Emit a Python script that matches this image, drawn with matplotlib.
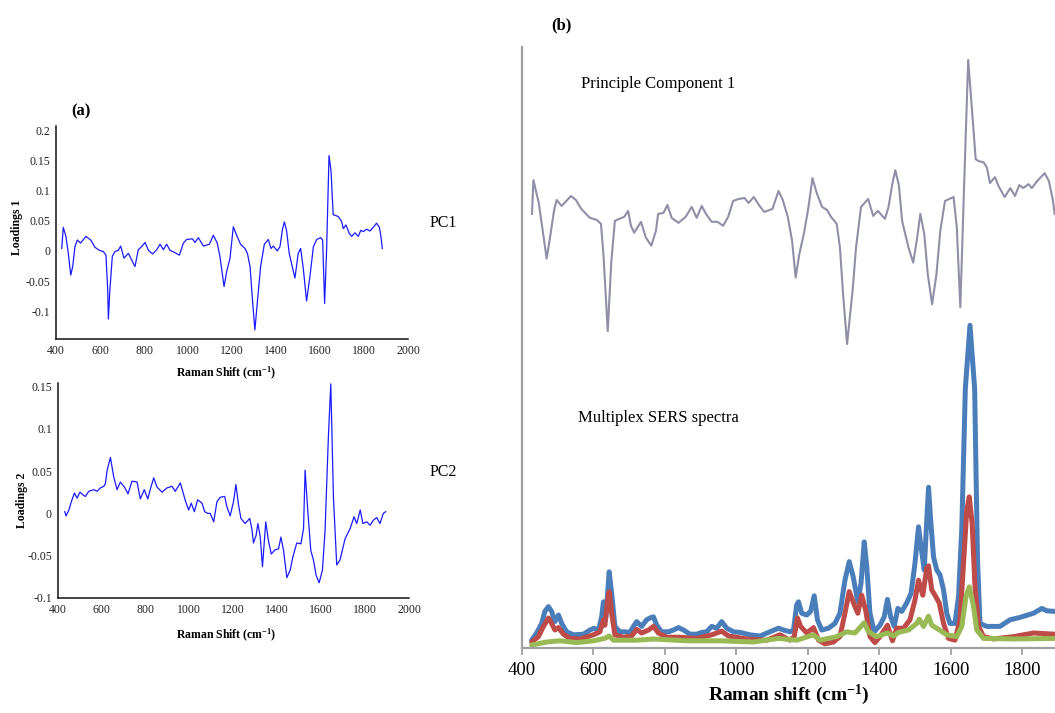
import matplotlib
matplotlib.use("Agg")
import matplotlib.pyplot as plt
from matplotlib.ticker import FixedLocator

plt.rcParams['font.family'] = ['Liberation Serif', 'DejaVu Serif']
plt.rcParams['mathtext.fontset'] = 'custom'
plt.rcParams['mathtext.rm'] = 'Liberation Serif'
plt.rcParams['mathtext.bf'] = 'Liberation Serif:bold'
plt.rcParams['mathtext.it'] = 'Liberation Serif:italic'

# ---------------- (a) PCA loadings ----------------
pc1_a_wn = [426, 433, 445, 456, 467, 476, 486, 497, 512, 536, 558, 577, 597, 615, 627, 635, 638, 645,
            656, 668, 683, 694, 709, 729, 744, 759, 774, 789, 805, 820, 839, 858, 873, 888, 903, 918,
            941, 961, 979, 994, 1020, 1032, 1047, 1070, 1097, 1115, 1133, 1145, 1164, 1176, 1191,
            1206, 1221, 1239, 1259, 1270, 1282, 1294, 1304, 1315, 1330, 1347, 1365, 1377, 1388, 1406,
            1418, 1430, 1438, 1448, 1460, 1486, 1501, 1512, 1524, 1539, 1554, 1570, 1585, 1603, 1612,
            1621, 1630, 1641, 1650, 1660, 1683, 1698, 1706, 1718, 1733, 1744, 1759, 1774, 1785, 1797,
            1812, 1827, 1842, 1857, 1870, 1877, 1883]
pc1_a_val = [0.004, 0.039, 0.024, -0.004, -0.040, -0.026, 0.007, 0.018, 0.013, 0.024, 0.018, 0.006,
             0.001, -0.001, -0.007, -0.064, -0.113, -0.064, -0.009, -0.001, 0.001, 0.008, -0.012,
             -0.004, -0.015, -0.026, 0.002, 0.007, 0.014, 0.001, -0.005, 0.002, 0.011, 0.002, 0.011,
             0.001, -0.003, -0.007, 0.013, 0.019, 0.020, 0.014, 0.022, 0.008, 0.011, 0.026, 0.013,
             -0.009, -0.059, -0.034, -0.012, 0.040, 0.026, 0.011, 0.004, -0.004, -0.026, -0.086,
             -0.131, -0.086, -0.026, 0.011, 0.019, 0.004, 0.008, 0.000, 0.007, 0.037, 0.048, 0.034,
             -0.004, -0.045, -0.004, 0.004, -0.029, -0.083, -0.043, 0.007, 0.019, 0.022, 0.018,
             -0.087, 0.002, 0.158, 0.133, 0.060, 0.057, 0.049, 0.037, 0.043, 0.029, 0.024, 0.030,
             0.024, 0.034, 0.032, 0.036, 0.033, 0.039, 0.046, 0.039, 0.024, 0.004]

pc2_a_wn = [433, 439, 452, 462, 477, 489, 502, 520, 527, 542, 565, 580, 595, 611, 618, 626, 641, 656,
            671, 686, 705, 721, 739, 762, 777, 795, 811, 823, 838, 853, 876, 898, 921, 936, 959, 982,
            997, 1009, 1023, 1038, 1058, 1070, 1083, 1095, 1111, 1126, 1141, 1161, 1171, 1186, 1202,
            1212, 1224, 1235, 1254, 1275, 1285, 1292, 1304, 1312, 1323, 1333, 1348, 1360, 1373, 1391,
            1406, 1417, 1429, 1444, 1459, 1471, 1489, 1508, 1520, 1527, 1539, 1553, 1565, 1577, 1591,
            1606, 1618, 1633, 1644, 1656, 1671, 1686, 1709, 1732, 1750, 1762, 1778, 1790, 1808, 1823,
            1838, 1853, 1868, 1883, 1894]
pc2_a_val = [0.002, -0.003, 0.004, 0.013, 0.024, 0.018, 0.025, 0.021, 0.020, 0.026, 0.028, 0.026,
             0.030, 0.032, 0.035, 0.051, 0.066, 0.043, 0.028, 0.037, 0.031, 0.023, 0.038, 0.037,
             0.017, 0.028, 0.017, 0.029, 0.042, 0.031, 0.025, 0.030, 0.032, 0.026, 0.036, 0.015,
             0.004, 0.012, 0.002, 0.016, 0.012, 0.002, 0.000, 0.000, -0.010, 0.014, 0.019, 0.020,
             0.008, -0.003, 0.015, 0.034, 0.010, -0.006, -0.012, -0.006, -0.019, -0.035, -0.026,
             -0.012, -0.028, -0.063, -0.010, -0.032, -0.048, -0.043, -0.042, -0.028, -0.044, -0.076,
             -0.067, -0.052, -0.035, -0.036, -0.018, 0.051, 0.004, -0.044, -0.055, -0.073, -0.082,
             -0.067, -0.020, 0.090, 0.153, 0.019, -0.061, -0.055, -0.030, -0.018, -0.004, -0.012,
             0.004, -0.012, -0.010, -0.014, -0.008, -0.005, -0.012, 0.000, 0.002]

a_xticks = [400, 600, 800, 1000, 1200, 1400, 1600, 1800, 2000]
pc1_yticks = [0.2, 0.15, 0.1, 0.05, 0, -0.05, -0.1]
pc1_ylabels = ['0.2', '0.15', '0.1', '0.05', '0', '-0.05', '-0.1']
pc2_yticks = [0.15, 0.1, 0.05, 0, -0.05, -0.1]
pc2_ylabels = ['0.15', '0.1', '0.05', '0', '-0.05', '-0.1']

# ---------------- (b) PC1 loading and multiplex SERS spectra ----------------
pc1_b_wn = [428, 432, 447, 469, 480, 490, 497, 511, 537, 551, 566, 590, 609, 621, 628, 640, 650, 660,
            672, 686, 697, 705, 714, 733, 747, 762, 775, 781, 796, 807, 819, 838, 858, 875, 889, 903,
            915, 931, 947, 963, 977, 991, 1006, 1023, 1034, 1049, 1063, 1078, 1101, 1118, 1130, 1144,
            1156, 1166, 1176, 1189, 1202, 1213, 1225, 1240, 1254, 1265, 1281, 1290, 1299, 1310, 1326,
            1335, 1349, 1369, 1383, 1396, 1416, 1426, 1436, 1445, 1455, 1464, 1482, 1495, 1505, 1515,
            1526, 1536, 1548, 1560, 1571, 1584, 1596, 1608, 1617, 1627, 1636, 1649, 1660, 1670, 1679,
            1692, 1701, 1710, 1724, 1734, 1751, 1767, 1780, 1792, 1803, 1818, 1827, 1842, 1863, 1875,
            1886, 1891]
pc1_b_val = [0.000, 0.034, 0.011, -0.045, -0.020, 0.004, 0.014, 0.008, 0.018, 0.014, 0.005, -0.004,
             -0.006, -0.010, -0.041, -0.118, -0.048, -0.007, -0.005, -0.003, 0.003, -0.012, -0.019,
             -0.008, -0.024, -0.032, -0.017, 0.000, 0.001, 0.009, -0.004, -0.009, -0.003, 0.007,
             -0.004, 0.008, 0.000, -0.008, -0.008, -0.012, -0.003, 0.013, 0.015, 0.016, 0.011, 0.017,
             0.009, 0.002, 0.005, 0.023, 0.014, -0.003, -0.027, -0.064, -0.041, -0.020, 0.007, 0.036,
             0.021, 0.007, 0.004, -0.003, -0.010, -0.034, -0.082, -0.131, -0.075, -0.034, 0.007,
             0.015, -0.002, 0.003, -0.005, 0.007, 0.029, 0.044, 0.029, -0.007, -0.034, -0.049,
             -0.027, 0.000, -0.020, -0.061, -0.091, -0.061, -0.017, 0.013, 0.015, 0.017, -0.013,
             -0.094, 0.011, 0.155, 0.103, 0.055, 0.053, 0.052, 0.047, 0.031, 0.037, 0.028, 0.017,
             0.026, 0.018, 0.029, 0.026, 0.030, 0.026, 0.033, 0.041, 0.033, 0.014, 0.000]

blue_wn = [427, 441, 455, 464, 474, 483, 492, 502, 511, 525, 544, 572, 590, 602, 614, 623, 628, 634,
           639, 644, 651, 660, 674, 688, 702, 712, 721, 735, 749, 758, 768, 777, 791, 810, 824, 838,
           852, 870, 889, 903, 917, 931, 945, 959, 973, 992, 1010, 1038, 1066, 1094, 1118, 1132, 1150,
           1160, 1169, 1174, 1183, 1197, 1208, 1218, 1227, 1239, 1258, 1276, 1290, 1304, 1316, 1327,
           1340, 1349, 1358, 1365, 1374, 1386, 1402, 1414, 1423, 1432, 1442, 1452, 1463, 1477, 1489,
           1500, 1510, 1517, 1526, 1533, 1538, 1544, 1552, 1561, 1570, 1580, 1589, 1598, 1612, 1622,
           1631, 1641, 1654, 1667, 1675, 1682, 1701, 1738, 1766, 1794, 1832, 1855, 1869, 1892]
blue_int = [1.3, 2.5, 4.1, 6.1, 6.9, 6.1, 4.4, 5.5, 4.1, 2.7, 2.2, 2.3, 3.0, 3.3, 2.9, 5.2, 7.7, 4.7,
            8.6, 12.7, 9.1, 3.6, 2.7, 2.7, 2.6, 3.6, 4.4, 3.6, 4.7, 5.0, 5.2, 3.8, 2.7, 2.7, 3.0, 3.4,
            3.0, 2.3, 2.3, 2.6, 2.7, 3.6, 3.3, 4.4, 3.3, 2.7, 2.6, 2.2, 2.0, 2.7, 3.3, 3.0, 2.7, 3.0,
            7.2, 7.7, 5.8, 5.5, 6.1, 8.7, 4.7, 3.0, 3.3, 4.1, 5.8, 11.3, 14.4, 11.9, 7.7, 10.8, 17.7,
            13.6, 5.8, 2.7, 3.8, 5.2, 8.1, 5.2, 3.6, 6.6, 6.1, 7.5, 9.1, 14.1, 20.2, 16.9, 13.0, 21.3,
            26.8, 21.3, 15.2, 13.0, 12.2, 9.7, 5.8, 4.1, 4.1, 8.6, 19.7, 43.3, 53.8, 43.3, 14.9, 4.1,
            3.6, 3.6, 4.7, 5.1, 5.8, 6.6, 6.2, 6.1]

red_wn = [427, 446, 460, 474, 483, 492, 502, 516, 534, 562, 590, 604, 618, 628, 632, 639, 644, 651,
          660, 684, 707, 721, 735, 754, 768, 782, 805, 842, 889, 931, 959, 978, 1029, 1085, 1122, 1150,
          1162, 1171, 1180, 1197, 1216, 1230, 1248, 1272, 1290, 1304, 1316, 1330, 1340, 1351, 1362,
          1374, 1388, 1402, 1423, 1437, 1449, 1468, 1486, 1500, 1510, 1522, 1533, 1538, 1547, 1556,
          1568, 1580, 1594, 1612, 1626, 1636, 1645, 1652, 1660, 1668, 1678, 1692, 1720, 1776, 1832, 1892]
red_int = [1.0, 1.9, 3.6, 5.0, 4.1, 3.0, 3.4, 2.3, 1.6, 1.5, 2.0, 2.3, 2.7, 4.7, 3.8, 7.5, 9.4, 5.8,
           2.2, 1.8, 2.0, 3.1, 2.5, 3.0, 3.6, 2.5, 1.8, 1.8, 1.6, 2.2, 2.8, 2.0, 1.5, 1.3, 2.2, 1.3,
           1.9, 5.0, 3.6, 2.5, 3.4, 1.3, 0.7, 1.0, 1.9, 5.8, 9.4, 7.2, 5.8, 8.8, 6.3, 1.9, 0.9, 1.9,
           3.8, 1.2, 3.3, 3.3, 4.7, 8.0, 11.3, 8.8, 13.3, 13.7, 9.7, 8.8, 7.5, 4.1, 1.6, 1.3, 4.7,
           14.1, 23.0, 25.2, 20.8, 10.2, 3.6, 1.9, 1.5, 1.9, 2.5, 2.3]

green_wn = [427, 469, 506, 553, 600, 632, 644, 656, 721, 768, 861, 954, 1048, 1118, 1169, 1216, 1234,
            1281, 1309, 1332, 1358, 1370, 1393, 1423, 1440, 1454, 1482, 1505, 1512, 1524, 1538, 1547,
            1566, 1589, 1617, 1631, 1643, 1652, 1664, 1673, 1692, 1776, 1892]
green_int = [0.5, 1.0, 1.2, 0.9, 1.2, 1.6, 2.0, 1.3, 1.3, 1.5, 1.2, 1.2, 1.0, 1.6, 1.3, 2.2, 1.3,
             1.9, 2.7, 2.5, 4.2, 2.7, 1.9, 2.5, 2.0, 2.6, 3.0, 4.1, 4.8, 3.6, 5.3, 3.8, 3.1, 2.2,
             1.9, 3.6, 8.6, 10.2, 6.9, 3.0, 1.6, 1.5, 1.6]

b_xticks = [400, 600, 800, 1000, 1200, 1400, 1600, 1800]

# ---------------- figure ----------------
W, H = 1055, 713
fig = plt.figure(figsize=(W / 100, H / 100), dpi=100)
fig.patch.set_facecolor('white')


def box(left, top, right, bottom):
    """Axes rectangle from pixel edges (origin at top-left)."""
    return [left / W, 1 - bottom / H, (right - left) / W, (bottom - top) / H]


def style_loadings(ax, yticks, ylabels):
    for s in ('top', 'right'):
        ax.spines[s].set_visible(False)
    for s in ('left', 'bottom'):
        ax.spines[s].set_color('#111111')
        ax.spines[s].set_linewidth(1.1)
    ax.set_xlim(400, 2000)
    ax.xaxis.set_major_locator(FixedLocator(a_xticks))
    ax.set_xticklabels([str(t) for t in a_xticks])
    ax.yaxis.set_major_locator(FixedLocator(yticks))
    ax.set_yticklabels(ylabels)
    ax.tick_params(length=0, labelsize=8.5, colors='#222222', pad=4)


loading_color = '#1a1aff'

ax1 = fig.add_axes(box(56, 126, 408, 339))
ax1.plot(pc1_a_wn, pc1_a_val, color=loading_color, lw=0.9)
ax1.set_ylim(-0.146, 0.207)
style_loadings(ax1, pc1_yticks, pc1_ylabels)

ax2 = fig.add_axes(box(57.5, 383, 409, 598))
ax2.plot(pc2_a_wn, pc2_a_val, color=loading_color, lw=0.9)
ax2.set_ylim(-0.1, 0.154)
style_loadings(ax2, pc2_yticks, pc2_ylabels)

xlab_a = r'Raman Shift (cm$^{\mathbf{-1}}$)'
fig.text(226 / W, 1 - 373 / H, xlab_a, ha='center', va='center', fontsize=8.5, fontweight='bold')
fig.text(226 / W, 1 - 635 / H, xlab_a, ha='center', va='center', fontsize=8.5, fontweight='bold')
fig.text(17 / W, 1 - 227 / H, 'Loadings 1', rotation=90, ha='center', va='center',
         fontsize=8.5, fontweight='bold')
fig.text(22 / W, 1 - 500 / H, 'Loadings 2', rotation=90, ha='center', va='center',
         fontsize=8.5, fontweight='bold')
fig.text(443 / W, 1 - 223 / H, 'PC1', ha='center', va='center', fontsize=11.5)
fig.text(443 / W, 1 - 472 / H, 'PC2', ha='center', va='center', fontsize=11.5)
fig.text(81 / W, 1 - 111 / H, '(a)', ha='center', va='center', fontsize=12, fontweight='bold')

# (b) spectra axes
axb = fig.add_axes(box(522, 47, 1055, 648))
axb.plot(blue_wn, blue_int, color='#4a7ebb', lw=3.6, solid_joinstyle='round', solid_capstyle='round')
axb.plot(red_wn, red_int, color='#be4b48', lw=3.6, solid_joinstyle='round', solid_capstyle='round')
axb.plot(green_wn, green_int, color='#98b954', lw=3.6, solid_joinstyle='round', solid_capstyle='round')
axb.set_xlim(400, 1892)
axb.set_ylim(0, 100.2)
for s in ('top', 'right'):
    axb.spines[s].set_visible(False)
for s in ('left', 'bottom'):
    axb.spines[s].set_color('#a0a0a0')
    axb.spines[s].set_linewidth(1.6)
axb.set_yticks([])
axb.xaxis.set_major_locator(FixedLocator(b_xticks))
axb.set_xticklabels([str(t) for t in b_xticks])
axb.tick_params(axis='x', direction='out', length=5, width=1.3, color='#a0a0a0',
                labelsize=13.5, labelcolor='black', pad=5)
axb.set_xlabel(r'Raman shift (cm$^{\mathbf{-1}}$)', fontsize=14, fontweight='bold', labelpad=3)

# PC1 loading drawn over the spectra on its own vertical scale
axp = axb.twinx()
axp.plot(pc1_b_wn, pc1_b_val, color='#8f8fa8', lw=1.5)
axp.set_ylim(-0.437, 0.168)
axp.axis('off')

fig.text(658 / W, 1 - 84 / H, 'Principle Component 1', ha='center', va='center', fontsize=12)
fig.text(658 / W, 1 - 418 / H, 'Multiplex SERS spectra', ha='center', va='center', fontsize=12)
fig.text(561 / W, 1 - 25 / H, '(b)', ha='center', va='center', fontsize=12, fontweight='bold')

fig.savefig('out.png', dpi=100, facecolor='white')
